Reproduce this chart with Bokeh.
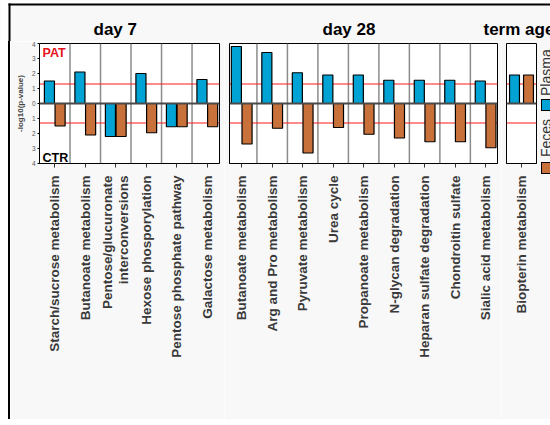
import numpy as np
from bokeh.plotting import figure
from bokeh.layouts import row, column
from bokeh.models import Range1d, Span, Label, FixedTicker, ColumnDataSource, Div
from bokeh.transform import dodge
from bokeh.core.properties import value
from bokeh.embed import file_html
from bokeh.resources import INLINE

FONT = "Liberation Sans"
PAGE_BG = "#f8f8f8"
BLUE = "#00a3d4"
BROWN = "#c8713a"

# -log10(p-value); positive = higher in PAT, negative = higher in CTR
series_names = ["Plasma", "Feces"]
series_colors = [BLUE, BROWN]
panel_titles = ["day 7", "day 28", "term age"]

day7_cats = ["Starch/sucrose metabolism", "Butanoate metabolism",
             "Pentose/glucuronate\ninterconversions", "Hexose phosporylation",
             "Pentose phosphate pathway", "Galactose metabolism"]
day7_plasma = [1.5, 2.1, -2.2, 2.0, -1.55, 1.6]
day7_feces = [-1.5, -2.1, -2.2, -1.95, -1.55, -1.55]

day28_cats = ["Butanoate metabolism", "Arg and Pro metabolism", "Pyruvate metabolism",
              "Urea cycle", "Propanoate metabolism", "N-glycan degradation",
              "Heparan sulfate degradation", "Chondroitin sulfate", "Sialic acid metabolism"]
day28_plasma = [3.8, 3.4, 2.05, 1.9, 1.9, 1.55, 1.55, 1.55, 1.5]
day28_feces = [-2.7, -1.65, -3.3, -1.6, -2.05, -2.3, -2.55, -2.55, -2.95]

term_cats = ["Biopterin metabolism"]
term_plasma = [1.9]
term_feces = [1.9]

y_ticks = [-4, -3, -2, -1, 0, 1, 2, 3, 4]
significance = 1.3  # -log10(0.05)

ROW_TOP = 41
ROW_H = 378


def box(left, top, width, height, color, border=None):
    edge = f"border:1.2px solid {border};box-sizing:border-box;" if border else ""
    return (f'<div style="position:absolute;left:{left}px;top:{top}px;width:{width}px;'
            f'height:{height}px;background:{color};{edge}"></div>')


def html_block(width, height, inner):
    return Div(text=(f'<div style="position:relative;width:{width}px;height:{height}px;'
                     f'overflow:hidden;background:{PAGE_BG};">{inner}</div>'),
               width=width, height=height, margin=0,
               styles={"overflow": "hidden", "padding": "0", "margin": "0"})


def panel(cats, plasma, feces, xr, width, b_left, b_right, offset, y_axis=False):
    n = len(cats)
    p = figure(width=width, height=ROW_H, x_range=Range1d(*xr), y_range=Range1d(-4, 4),
               output_backend="svg", toolbar_location=None, margin=0,
               y_axis_location="left" if y_axis else None,
               min_border=0, min_border_left=b_left, min_border_right=b_right,
               min_border_top=2, min_border_bottom=ROW_H - 122,
               background_fill_color="white", border_fill_color=PAGE_BG,
               outline_line_color="black", outline_line_width=1)
    p.grid.visible = False

    for b in range(1, n):
        p.add_layout(Span(location=b, dimension="height", line_color="#8c8c8c",
                          line_width=1.5, level="underlay"))
    for s in (significance, -significance):
        p.add_layout(Span(location=s, dimension="width", line_color="#ff1a1a",
                          line_width=1.2, level="underlay"))

    src = ColumnDataSource(dict(x=np.arange(n) + 0.5, plasma=plasma, feces=feces))
    p.vbar(x=dodge("x", -offset), top="plasma", bottom=0, width=0.33, source=src,
           fill_color=series_colors[0], line_color="black", line_width=1.2)
    p.vbar(x=dodge("x", offset), top="feces", bottom=0, width=0.33, source=src,
           fill_color=series_colors[1], line_color="black", line_width=1.2)

    p.add_layout(Span(location=0, dimension="width", line_color="#4a4a4a", line_width=2))

    ax = p.xaxis[0]
    ax.ticker = FixedTicker(ticks=[float(i + 0.5) for i in range(n)])
    ax.major_label_overrides = {float(i + 0.5): c for i, c in enumerate(cats)}
    ax.major_label_orientation = np.pi / 2
    ax.major_label_text_font = FONT
    ax.major_label_text_font_style = "bold"
    ax.major_label_text_font_size = "13.5px"
    ax.major_label_text_color = "#3a3a3a"
    ax.major_label_text_line_height = 1.05
    ax.major_label_standoff = 8
    ax.major_tick_out = 4
    ax.major_tick_in = 0
    ax.major_tick_line_color = "#333333"
    ax.minor_tick_line_color = None
    ax.axis_line_color = "black"

    if y_axis:
        ya = p.yaxis[0]
        ya.ticker = FixedTicker(ticks=y_ticks)
        ya.major_label_overrides = {t: str(abs(t)) for t in y_ticks}
        ya.major_label_text_font = FONT
        ya.major_label_text_font_size = "6.5px"
        ya.major_label_text_color = "#555555"
        ya.major_label_standoff = 2
        ya.major_tick_out = 2
        ya.major_tick_in = 0
        ya.minor_tick_line_color = None
        ya.axis_line_color = "black"
        ya.axis_label = "-log10(p-value)"
        ya.axis_label_text_font = FONT
        ya.axis_label_text_font_style = "bold"
        ya.axis_label_text_font_size = "8px"
        ya.axis_label_standoff = 4
        p.add_layout(Label(x=xr[0] + 0.1, y=3.83, text="PAT", text_baseline="top",
                           text_color="#e3141b", text_font=FONT, text_font_style="bold",
                           text_font_size="12.5px"))
        p.add_layout(Label(x=xr[0] + 0.1, y=-3.6, text="CTR", text_baseline="alphabetic",
                           text_color="black", text_font=FONT, text_font_style="bold",
                           text_font_size="12.5px"))
    return p


# top strip: page frame (top edge) and the panel titles, in page pixels
top = figure(width=550, height=ROW_TOP, x_range=Range1d(0, 550), y_range=Range1d(ROW_TOP, 0),
             output_backend="svg", toolbar_location=None, margin=0,
             x_axis_location=None, y_axis_location=None,
             min_border=0, min_border_left=0, min_border_right=0,
             min_border_top=0, min_border_bottom=0,
             background_fill_color=PAGE_BG, border_fill_color=PAGE_BG, outline_line_color=None)
top.grid.visible = False
top.quad(left=[0, 0], right=[8, 550], top=[0, 0], bottom=[ROW_TOP, 3],
         fill_color="white", line_color=None)
top.quad(left=[8, 8], right=[10, 550], top=[3, 3], bottom=[ROW_TOP, 5],
         fill_color="black", line_color=None)
top.text(x=[93, 322, 483], y=[29, 29, 29], text=panel_titles, text_font=value(FONT),
         text_font_style="bold", text_font_size="17px", text_baseline="alphabetic",
         text_align="left", text_color="black")

# left edge of the page frame
edge = html_block(10, ROW_H, box(0, 0, 8, ROW_H, "white") + box(8, 0, 2, ROW_H, "black"))

# bottom edge of the page frame
foot = html_block(550, 6, box(0, 0, 550, 6, "white") + box(8, 0, 542, 4, "black")
                  + box(10, 0, 540, 2, PAGE_BG))

p7 = panel(day7_cats, day7_plasma, day7_feces, (0.0, 5.9), 214, 29, 5, 0.175, y_axis=True)
p28 = panel(day28_cats, day28_plasma, day28_feces, (0.1, 8.89), 277, 5, 4, 0.175)
pterm = panel(term_cats, term_plasma, term_feces, (0.0, 1.0), 39, 5, 4, 0.233)

# legend: entries rotated to read upwards along the right edge
legend_tops = [96, 157]
square_tops = [99, 162]
items = ""
for name, col, t, s in zip(series_names, series_colors, legend_tops, square_tops):
    items += box(1, s - ROW_TOP, 12, 12, col, border="black")
    items += (f'<div style="position:absolute;left:-1.5px;top:{t - ROW_TOP}px;'
              f'transform:rotate(-90deg);transform-origin:left top;white-space:nowrap;'
              f'font-family:\'{FONT}\';font-size:14px;line-height:14px;color:#333333;">'
              f'{name}</div>')
leg = html_block(10, ROW_H, items)

layout = column(top, row(edge, p7, p28, pterm, leg, margin=0, spacing=0),
                foot, margin=0, spacing=0)

open("out.html", "w").write(file_html(layout, INLINE))
